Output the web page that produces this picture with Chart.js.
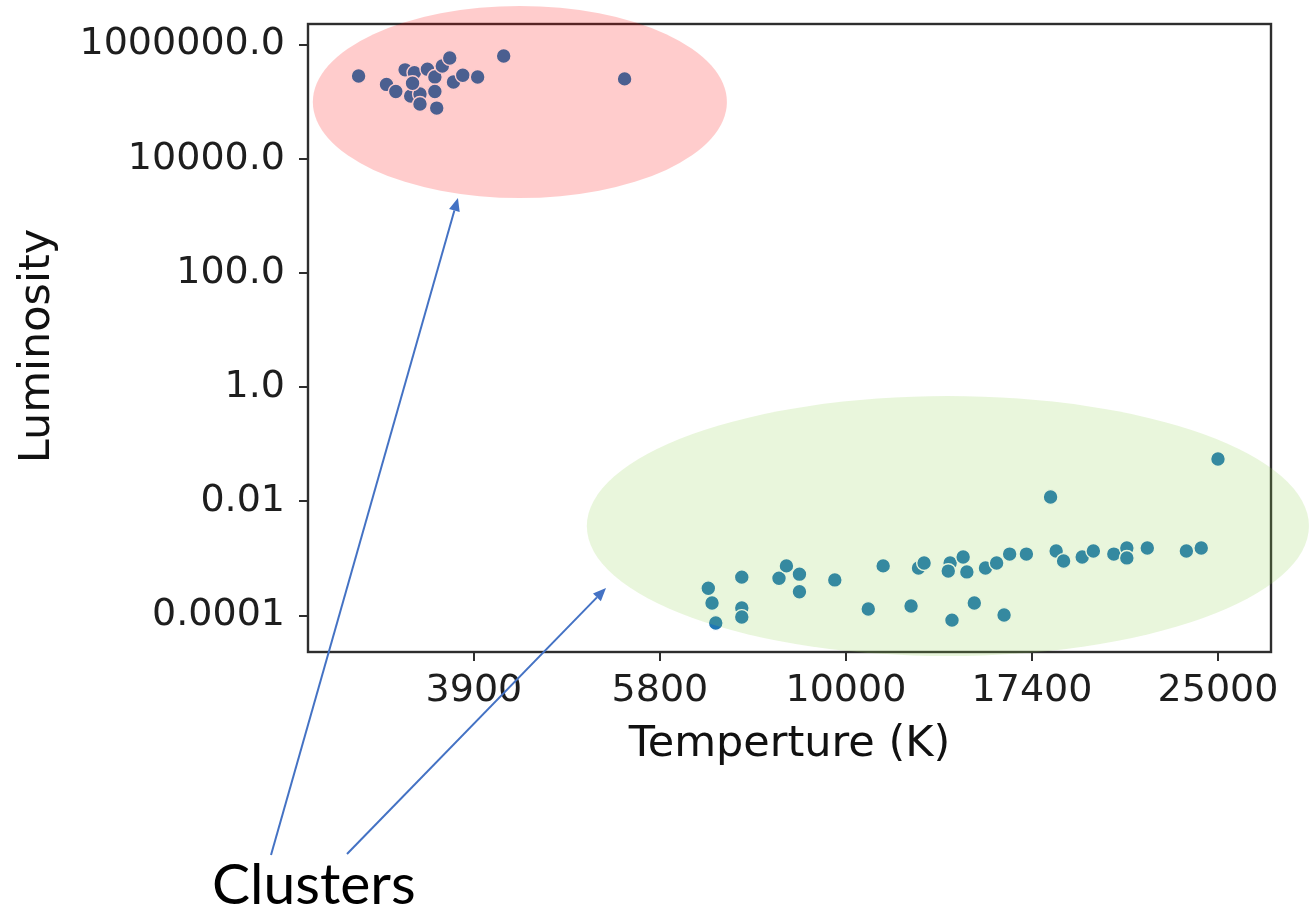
<!DOCTYPE html>
<html>
<head>
<meta charset="utf-8">
<title>Temperature vs Luminosity</title>
<script src="https://cdn.jsdelivr.net/npm/chart.js@4/dist/chart.umd.min.js"></script>
<style>
  html, body { margin: 0; padding: 0; background: #ffffff; }
  #wrap { width: 1309px; height: 909px; }
</style>
</head>
<body>
<div id="wrap"><canvas id="hr" width="1309" height="909"></canvas></div>
<script>
// Temperature axis is ordinal: stars sit at positions between the labelled temperatures.
const tempTickPos = [1, 2, 3, 4, 5];
const tempTickLabels = ['3900', '5800', '10000', '17400', '25000'];

const lumTickValues = [1e-4, 1e-2, 1, 1e2, 1e4, 1e6];
const lumTickLabels = ['0.0001', '0.01', '1.0', '100.0', '10000.0', '1000000.0'];

// Bright, cool stars
const giantTemp = [0.38, 0.53, 0.58, 0.63, 0.68, 0.66, 0.71, 0.67, 0.75, 0.79,
                   0.79, 0.83, 0.87, 0.89, 0.94, 0.80, 1.02, 1.16, 1.81, 0.71];
const giantLum  = [2.8e5, 2.0e5, 1.5e5, 3.6e5, 3.2e5, 1.25e5, 1.36e5, 2.1e5, 3.7e5, 2.7e5,
                   1.5e5, 4.2e5, 5.8e5, 2.2e5, 2.9e5, 7.7e4, 2.7e5, 6.3e5, 2.5e5, 9.1e4];

// Faint, hot stars
const dwarfTemp = [2.26, 2.28, 2.30, 2.44, 2.44, 2.44, 2.64, 2.68, 2.75, 2.75,
                   2.94, 3.12, 3.20, 3.35, 3.39, 3.42, 3.56, 3.55, 3.63, 3.65,
                   3.57, 3.69, 3.75, 3.81, 3.85, 3.88, 3.97, 4.10, 4.13, 4.17,
                   4.27, 4.33, 4.44, 4.51, 4.51, 4.62, 4.83, 4.91, 5.00];
const dwarfLum  = [3.0e-4, 1.66e-4, 7.4e-5, 4.7e-4, 1.35e-4, 9.4e-5, 4.5e-4, 7.4e-4, 5.3e-4, 2.6e-4,
                   4.2e-4, 1.3e-4, 7.4e-4, 1.47e-4, 6.8e-4, 8.3e-4, 8.3e-4, 6.0e-4, 1.06e-3, 5.8e-4,
                   8.3e-5, 1.66e-4, 6.8e-4, 8.3e-4, 1.02e-4, 1.19e-3, 1.19e-3, 1.19e-2, 1.35e-3, 9.0e-4,
                   1.06e-3, 1.35e-3, 1.19e-3, 1.52e-3, 1.02e-3, 1.52e-3, 1.35e-3, 1.52e-3, 5.5e-2];

// Shaded cluster regions, in axis units (temperature position, luminosity, half-spans)
const clusterRegions = [
  { temp: 1.247, lum: 9.84e4,  halfSpan: 1.113, halfDecades: 1.681, color: 'rgba(255, 0, 0, 0.2)' },
  { temp: 3.548, lum: 3.69e-3, halfSpan: 1.941, halfDecades: 2.277, color: 'rgba(146, 208, 80, 0.2)' }
];
// Arrow tips, in axis units
const arrowTips = [
  { temp: 0.914, lum: 2050 },
  { temp: 1.710, lum: 3.03e-4 }
];

const toPoints = (xs, ys) => xs.map((x, i) => ({ x: x, y: ys[i] }));

const SPINE = '#2e2e2e';
const TEXT = '#1e1e1e';

const frame = {
  id: 'frame',
  beforeDatasetsDraw(chart) {
    const { ctx, chartArea: a } = chart;
    ctx.save();
    ctx.strokeStyle = SPINE;
    ctx.lineWidth = 2.4;
    ctx.strokeRect(a.left, a.top, a.right - a.left, a.bottom - a.top);
    // vertical axis title, centred a little below the middle of the plot
    ctx.translate(a.left - 270, (a.top + a.bottom) / 2 + 8);
    ctx.rotate(-Math.PI / 2);
    ctx.font = '43px "DejaVu Sans"';
    ctx.fillStyle = '#111111';
    ctx.textAlign = 'center';
    ctx.textBaseline = 'middle';
    ctx.fillText('Luminosity', 0, 0);
    ctx.restore();
  }
};

const clusterNotes = {
  id: 'clusterNotes',
  afterDraw(chart) {
    const { ctx } = chart;
    const xs = chart.scales.x, ys = chart.scales.y;
    ctx.save();
    // translucent cluster regions over the plot
    clusterRegions.forEach(r => {
      const cx = xs.getPixelForValue(r.temp);
      const cy = ys.getPixelForValue(r.lum);
      const rx = Math.abs(xs.getPixelForValue(r.temp + r.halfSpan) - cx);
      const ry = Math.abs(ys.getPixelForValue(r.lum * Math.pow(10, r.halfDecades)) - cy);
      ctx.beginPath();
      ctx.ellipse(cx, cy, rx, ry, 0, 0, Math.PI * 2);
      ctx.fillStyle = r.color;
      ctx.fill();
    });

    // "Clusters" caption with arrows pointing at each region
    const labelX = 212, labelBase = 904;
    ctx.font = '57px Lato';
    ctx.fillStyle = '#000000';
    ctx.textAlign = 'left';
    ctx.textBaseline = 'alphabetic';
    ctx.fillText('Clusters', labelX, labelBase);

    const tails = [[labelX + 59, labelBase - 49], [labelX + 135, labelBase - 50]];
    ctx.strokeStyle = '#4472C4';
    ctx.fillStyle = '#4472C4';
    ctx.lineWidth = 2;
    arrowTips.forEach((t, i) => {
      const tx = xs.getPixelForValue(t.temp);
      const ty = ys.getPixelForValue(t.lum);
      const [sx, sy] = tails[i];
      const ang = Math.atan2(ty - sy, tx - sx);
      const headLen = 13, headHalf = 5.5;
      const bx = tx - headLen * Math.cos(ang), by = ty - headLen * Math.sin(ang);
      ctx.beginPath();
      ctx.moveTo(sx, sy);
      ctx.lineTo(bx, by);
      ctx.stroke();
      ctx.beginPath();
      ctx.moveTo(tx, ty);
      ctx.lineTo(bx + headHalf * Math.sin(ang), by - headHalf * Math.cos(ang));
      ctx.lineTo(bx - headHalf * Math.sin(ang), by + headHalf * Math.cos(ang));
      ctx.closePath();
      ctx.fill();
    });
    ctx.restore();
  }
};

const pointStyle = {
  backgroundColor: '#1f77b4',
  borderColor: '#ffffff',
  borderWidth: 1.4,
  pointRadius: 7.4,
  pointHoverRadius: 7.4
};

new Chart(document.getElementById('hr'), {
  type: 'scatter',
  data: {
    datasets: [
      Object.assign({ label: 'Giants', data: toPoints(giantTemp, giantLum) }, pointStyle),
      Object.assign({ label: 'Dwarfs', data: toPoints(dwarfTemp, dwarfLum) }, pointStyle)
    ]
  },
  options: {
    responsive: false,
    devicePixelRatio: 1,
    animation: false,
    events: [],
    layout: { padding: { top: 24, right: 38, left: 0, bottom: 0 } },
    plugins: { legend: { display: false }, tooltip: { enabled: false } },
    scales: {
      x: {
        type: 'linear',
        position: 'bottom',
        min: 0.108,
        max: 5.285,
        afterBuildTicks: s => { s.ticks = tempTickPos.map(v => ({ value: v })); },
        afterFit: s => { s.height = 257; s.paddingLeft = 0; s.paddingRight = 0; },
        grid: { drawOnChartArea: false, drawTicks: true, tickLength: 9, tickWidth: 2, tickColor: SPINE, color: SPINE, lineWidth: 2 },
        border: { display: false },
        ticks: {
          autoSkip: false,
          maxRotation: 0,
          padding: 7,
          color: TEXT,
          font: { family: 'DejaVu Sans', size: 38, lineHeight: 1.2 },
          callback: (v, i) => tempTickLabels[i]
        },
        title: {
          display: true,
          text: 'Temperture (K)',
          color: '#111111',
          font: { family: 'DejaVu Sans', size: 43, lineHeight: 1.2 },
          padding: { top: 0, bottom: 138 }
        }
      },
      y: {
        type: 'logarithmic',
        position: 'left',
        min: 2.296e-5,
        max: 2.286e6,
        afterBuildTicks: s => { s.ticks = lumTickValues.map(v => ({ value: v })); },
        afterFit: s => { s.width = 308; s.paddingTop = 0; s.paddingBottom = 0; },
        grid: { drawOnChartArea: false, drawTicks: true, tickLength: 9, tickWidth: 2, tickColor: SPINE, color: SPINE, lineWidth: 2 },
        border: { display: false },
        ticks: {
          autoSkip: false,
          padding: 14,
          color: TEXT,
          font: { family: 'DejaVu Sans', size: 38, lineHeight: 1.2 },
          callback: (v, i) => lumTickLabels[i]
        },
        title: { display: false }
      }
    }
  },
  plugins: [frame, clusterNotes]
});
</script>
</body>
</html>
